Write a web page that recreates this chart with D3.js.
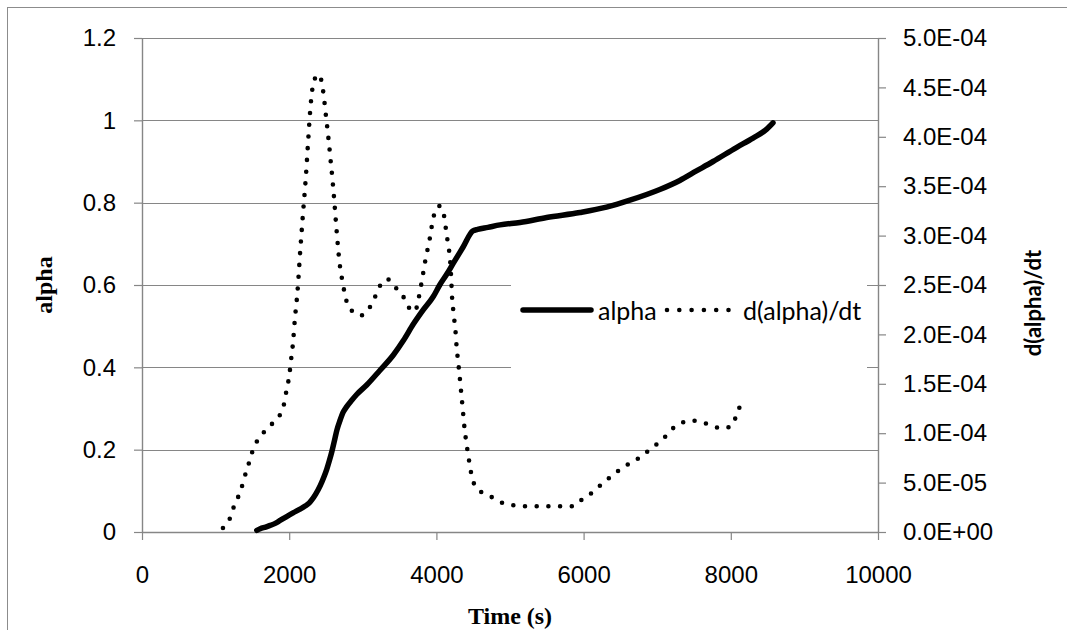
<!DOCTYPE html>
<html>
<head>
<meta charset="utf-8">
<script src="https://cdn.jsdelivr.net/npm/d3@7"></script>
<style>
  html, body { margin: 0; padding: 0; background: #ffffff; }
  svg { display: block; }
</style>
</head>
<body>
<script>
// Conversion curve alpha(t) and its rate d(alpha)/dt against time in seconds.
const alphaTime = [1560, 1606, 1680, 1741, 1810, 1877, 1960, 2058, 2140, 2217, 2270, 2307, 2360, 2420,
  2470, 2511, 2545, 2579, 2615, 2647, 2692, 2730, 2779, 2850, 2917, 3053, 3234, 3415, 3551, 3687,
  3823, 3958, 4045, 4140, 4230, 4365, 4493, 4560, 4700, 4864, 5136, 5498, 5949, 6311, 6629, 7035,
  7307, 7533, 7759, 8076, 8302, 8484, 8573];
const alphaValue = [0.004, 0.008, 0.012, 0.016, 0.021, 0.028, 0.037, 0.047, 0.055, 0.063, 0.070, 0.078,
  0.092, 0.112, 0.133, 0.153, 0.173, 0.195, 0.222, 0.247, 0.272, 0.290, 0.304, 0.320, 0.334, 0.357,
  0.393, 0.430, 0.465, 0.505, 0.540, 0.572, 0.600, 0.626, 0.653, 0.693, 0.731, 0.735, 0.740, 0.746,
  0.752, 0.764, 0.776, 0.789, 0.806, 0.832, 0.854, 0.877, 0.900, 0.934, 0.957, 0.978, 0.994];

const rateTime = [1100, 1190, 1240, 1298, 1350, 1390, 1435, 1475, 1525, 1597, 1683, 1786, 1870, 1925,
  1955, 1985, 2007, 2025, 2043, 2057, 2068, 2080, 2095, 2110, 2122, 2132, 2142, 2152, 2165, 2176,
  2188, 2200, 2213, 2224, 2235, 2245, 2255, 2265, 2275, 2287, 2300, 2318, 2350, 2397, 2430, 2458,
  2478, 2495, 2512, 2528, 2545, 2560, 2575, 2590, 2603, 2616, 2628, 2640, 2652, 2665, 2680, 2702,
  2728, 2755, 2795, 2850, 2900, 2960, 3027, 3108, 3167, 3225, 3280, 3330, 3394, 3470, 3560, 3620,
  3680, 3720, 3750, 3775, 3800, 3825, 3850, 3880, 3910, 3936, 3965, 4000, 4040, 4086, 4115, 4135,
  4160, 4180, 4192, 4200, 4207, 4215, 4230, 4247, 4262, 4273, 4287, 4303, 4318, 4332, 4346, 4360,
  4374, 4390, 4410, 4432, 4455, 4482, 4530, 4620, 4700, 4790, 4909, 5054, 5212, 5370, 5529, 5692,
  5850, 5963, 6085, 6194, 6303, 6420, 6547, 6665, 6796, 6891, 7013, 7117, 7200, 7321, 7457, 7606,
  7737, 7863, 8009, 8071, 8117];
const rateValue = [0.04e-4, 0.13e-4, 0.24e-4, 0.34e-4, 0.44e-4, 0.55e-4, 0.65e-4, 0.76e-4, 0.86e-4,
  0.96e-4, 1.03e-4, 1.11e-4, 1.18e-4, 1.28e-4, 1.40e-4, 1.51e-4, 1.62e-4, 1.74e-4, 1.85e-4, 1.96e-4,
  2.07e-4, 2.18e-4, 2.29e-4, 2.41e-4, 2.53e-4, 2.64e-4, 2.76e-4, 2.87e-4, 3.00e-4, 3.11e-4, 3.23e-4,
  3.34e-4, 3.46e-4, 3.57e-4, 3.69e-4, 3.81e-4, 3.93e-4, 4.04e-4, 4.16e-4, 4.28e-4, 4.39e-4, 4.50e-4,
  4.59e-4, 4.63e-4, 4.59e-4, 4.48e-4, 4.36e-4, 4.24e-4, 4.13e-4, 4.02e-4, 3.90e-4, 3.78e-4, 3.67e-4,
  3.55e-4, 3.44e-4, 3.32e-4, 3.20e-4, 3.09e-4, 2.98e-4, 2.87e-4, 2.75e-4, 2.63e-4, 2.52e-4, 2.41e-4,
  2.30e-4, 2.24e-4, 2.21e-4, 2.19e-4, 2.21e-4, 2.29e-4, 2.38e-4, 2.48e-4, 2.54e-4, 2.56e-4, 2.53e-4,
  2.45e-4, 2.37e-4, 2.28e-4, 2.23e-4, 2.25e-4, 2.33e-4, 2.43e-4, 2.53e-4, 2.64e-4, 2.75e-4, 2.86e-4,
  2.97e-4, 3.09e-4, 3.20e-4, 3.28e-4, 3.30e-4, 3.26e-4, 3.15e-4, 3.03e-4, 2.91e-4, 2.80e-4, 2.69e-4,
  2.58e-4, 2.47e-4, 2.35e-4, 2.24e-4, 2.12e-4, 2.01e-4, 1.89e-4, 1.78e-4, 1.67e-4, 1.56e-4, 1.45e-4,
  1.34e-4, 1.23e-4, 1.11e-4, 1.00e-4, 0.89e-4, 0.78e-4, 0.67e-4, 0.56e-4, 0.46e-4, 0.40e-4, 0.37e-4,
  0.34e-4, 0.29e-4, 0.27e-4, 0.26e-4, 0.26e-4, 0.26e-4, 0.26e-4, 0.26e-4, 0.32e-4, 0.38e-4, 0.45e-4,
  0.52e-4, 0.59e-4, 0.66e-4, 0.71e-4, 0.77e-4, 0.83e-4, 0.90e-4, 0.97e-4, 1.04e-4, 1.10e-4, 1.13e-4,
  1.11e-4, 1.08e-4, 1.05e-4, 1.07e-4, 1.17e-4, 1.26e-4];

const xTicks = [0, 2000, 4000, 6000, 8000, 10000];
const leftTicks = [0, 0.2, 0.4, 0.6, 0.8, 1, 1.2];
const rightTicks = [0, 5e-5, 1e-4, 1.5e-4, 2e-4, 2.5e-4, 3e-4, 3.5e-4, 4e-4, 4.5e-4, 5e-4];

const seriesNames = ["alpha", "d(alpha)/dt"];
const xTitle = "Time (s)";
const leftTitle = "alpha";
const rightTitle = "d(alpha)/dt";

const W = 1067, H = 630;
const plot = { left: 142, right: 878, top: 38, bottom: 532 };
const axisColor = "#868686";
const tickFont = "'Liberation Sans', Arial, sans-serif";
const serifFont = "'Liberation Serif', 'Times New Roman', serif";
const legendFont = "Lato, 'Open Sans', sans-serif";

const svg = d3.select("body").append("svg").attr("width", W).attr("height", H);

// chart area frame
svg.append("rect")
  .attr("x", 7.5).attr("y", 7.5).attr("width", W + 50).attr("height", H + 50)
  .attr("fill", "none").attr("stroke", "#8c8c8c").attr("stroke-width", 1);

const x = d3.scaleLinear().domain([0, 10000]).range([plot.left, plot.right]);
const yL = d3.scaleLinear().domain([0, 1.2]).range([plot.bottom, plot.top]);
const yR = d3.scaleLinear().domain([0, 5e-4]).range([plot.bottom, plot.top]);

// horizontal gridlines
svg.append("g").selectAll("line").data(leftTicks.filter(d => d > 0)).join("line")
  .attr("x1", plot.left).attr("x2", plot.right)
  .attr("y1", d => Math.round(yL(d)) + 0.5).attr("y2", d => Math.round(yL(d)) + 0.5)
  .attr("stroke", axisColor).attr("stroke-width", 1.2);

function styleAxis(g) {
  g.select(".domain").attr("stroke", axisColor).attr("stroke-width", 1.4);
  g.selectAll(".tick line").attr("stroke", axisColor).attr("stroke-width", 1.2);
  g.selectAll(".tick text").attr("fill", "#000").attr("font-size", 24).attr("font-family", tickFont);
}

function sci(v) {
  const [m, e] = v.toExponential(1).split("e");
  const n = Math.abs(+e);
  return m + "E" + (+e < 0 ? "-" : "+") + (n < 10 ? "0" : "") + n;
}

svg.append("g").attr("transform", `translate(0,${plot.bottom})`)
  .call(d3.axisBottom(x).tickValues(xTicks).tickFormat(d => String(d))
    .tickSize(8).tickSizeOuter(0).tickPadding(26))
  .call(styleAxis);

svg.append("g").attr("transform", `translate(${plot.left},0)`)
  .call(d3.axisLeft(yL).tickValues(leftTicks).tickFormat(d => String(d))
    .tickSize(8).tickSizeOuter(0).tickPadding(18))
  .call(styleAxis);

svg.append("g").attr("transform", `translate(${plot.right},0)`)
  .call(d3.axisRight(yR).tickValues(rightTicks).tickFormat(sci)
    .tickSize(8).tickSizeOuter(0).tickPadding(17))
  .call(styleAxis);

// series
const alphaData = alphaTime.map((t, i) => [t, alphaValue[i]]);
const rateData = rateTime.map((t, i) => [t, rateValue[i]]);

svg.append("path").datum(rateData)
  .attr("d", d3.line().x(d => x(d[0])).y(d => yR(d[1])).curve(d3.curveMonotoneX))
  .attr("fill", "none").attr("stroke", "#000").attr("stroke-width", 4.6)
  .attr("stroke-linecap", "round").attr("stroke-dasharray", "0 11.7");

svg.append("path").datum(alphaData)
  .attr("d", d3.line().x(d => x(d[0])).y(d => yL(d[1])).curve(d3.curveMonotoneX))
  .attr("fill", "none").attr("stroke", "#000").attr("stroke-width", 5.5)
  .attr("stroke-linecap", "round").attr("stroke-linejoin", "round");

// axis titles
svg.append("text").text(xTitle)
  .attr("x", 510).attr("y", 624).attr("text-anchor", "middle")
  .attr("font-family", serifFont).attr("font-weight", "bold").attr("font-size", 24);

svg.append("text").text(leftTitle)
  .attr("transform", "translate(44,285) rotate(-90)")
  .attr("text-anchor", "middle").attr("dominant-baseline", "central")
  .attr("font-family", serifFont).attr("font-weight", "bold").attr("font-size", 24);

svg.append("text").text(rightTitle)
  .attr("transform", "translate(1032,303) rotate(-90)")
  .attr("text-anchor", "middle").attr("dominant-baseline", "central")
  .attr("font-family", legendFont).attr("font-weight", "bold").attr("font-size", 22);

// legend
const legend = svg.append("g");
legend.append("rect").attr("x", 511).attr("y", 272).attr("width", 356).attr("height", 102)
  .attr("fill", "#fff");
legend.append("line").attr("x1", 523).attr("x2", 591).attr("y1", 310).attr("y2", 310)
  .attr("stroke", "#000").attr("stroke-width", 5.5).attr("stroke-linecap", "round");
legend.append("text").text(seriesNames[0]).attr("x", 598).attr("y", 310)
  .attr("dominant-baseline", "central").attr("font-family", legendFont).attr("font-size", 25);
legend.append("line").attr("x1", 667).attr("x2", 729).attr("y1", 310).attr("y2", 310)
  .attr("stroke", "#000").attr("stroke-width", 4.6).attr("stroke-linecap", "round")
  .attr("stroke-dasharray", "0 12.3");
legend.append("text").text(seriesNames[1]).attr("x", 743).attr("y", 310)
  .attr("dominant-baseline", "central").attr("font-family", legendFont).attr("font-size", 25);
</script>
</body>
</html>
